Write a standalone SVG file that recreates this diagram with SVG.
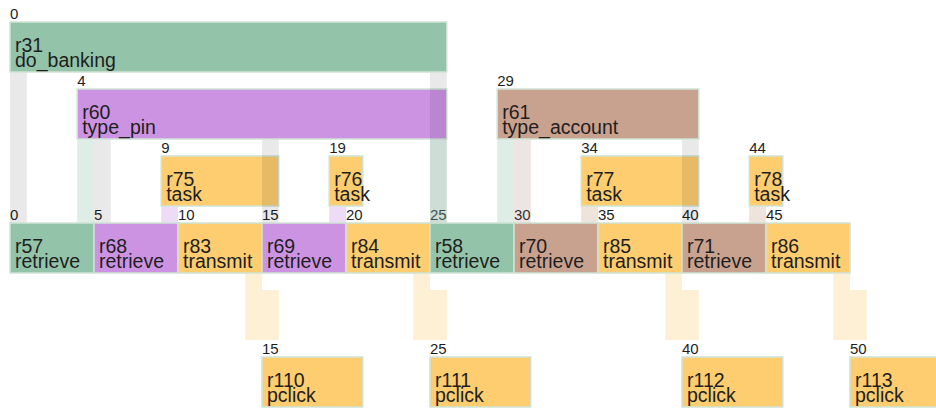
<svg xmlns="http://www.w3.org/2000/svg" width="936" height="411" viewBox="0 0 936 411">
<style>
.box{stroke:#cfe3d5;stroke-width:1.5}
.g{fill:#93c4aa}.p{fill:#cc93e3}.b{fill:#c9a18f}.o{fill:#fdcd70}
.t{font-family:"Liberation Sans",Arial,sans-serif;font-size:19.5px;fill:#1e1e1e}
.n{font-family:"Liberation Sans",Arial,sans-serif;font-size:15px;fill:#1e1e1e}
.cg{fill:rgba(0,0,0,0.085)}
.cgr{fill:rgba(147,196,170,0.3)}
.cp{fill:rgba(204,147,227,0.33)}
.cb{fill:rgba(201,161,143,0.3)}
.cbg{fill:rgba(150,110,100,0.18)}
.co{fill:rgba(253,205,112,0.3)}
</style>
<rect width="936" height="411" fill="#ffffff"/>

<g id="r31"><rect class="box g" x="10" y="22" width="436.8" height="50"/><text class="n" x="10" y="18.5">0</text><text class="t" x="15" y="52">r31</text><text class="t" x="15" y="67">do_banking</text></g>
<g id="r60"><rect class="box p" x="77.2" y="89" width="369.6" height="50"/><text class="n" x="77.2" y="85.5">4</text><text class="t" x="82.2" y="119">r60</text><text class="t" x="82.2" y="134">type_pin</text></g>
<g id="r61"><rect class="box b" x="497.2" y="89" width="201.6" height="50"/><text class="n" x="497.2" y="85.5">29</text><text class="t" x="502.2" y="119">r61</text><text class="t" x="502.2" y="134">type_account</text></g>
<g id="r75"><rect class="box o" x="161.2" y="156" width="117.6" height="50"/><text class="n" x="161.2" y="152.5">9</text><text class="t" x="166.2" y="186">r75</text><text class="t" x="166.2" y="201">task</text></g>
<g id="r76"><rect class="box o" x="329.2" y="156" width="33.6" height="50"/><text class="n" x="329.2" y="152.5">19</text><text class="t" x="334.2" y="186">r76</text><text class="t" x="334.2" y="201">task</text></g>
<g id="r77"><rect class="box o" x="581.2" y="156" width="117.6" height="50"/><text class="n" x="581.2" y="152.5">34</text><text class="t" x="586.2" y="186">r77</text><text class="t" x="586.2" y="201">task</text></g>
<g id="r78"><rect class="box o" x="749.2" y="156" width="33.6" height="50"/><text class="n" x="749.2" y="152.5">44</text><text class="t" x="754.2" y="186">r78</text><text class="t" x="754.2" y="201">task</text></g>

<g id="r57"><rect class="box g" x="10" y="223" width="84" height="50"/><text class="n" x="10" y="219.5">0</text><text class="t" x="15" y="253">r57</text><text class="t" x="15" y="268">retrieve</text></g>
<g id="r68"><rect class="box p" x="94" y="223" width="84" height="50"/><text class="n" x="94" y="219.5">5</text><text class="t" x="99" y="253">r68</text><text class="t" x="99" y="268">retrieve</text></g>
<g id="r83"><rect class="box o" x="178" y="223" width="84" height="50"/><text class="n" x="178" y="219.5">10</text><text class="t" x="183" y="253">r83</text><text class="t" x="183" y="268">transmit</text></g>
<g id="r69"><rect class="box p" x="262" y="223" width="84" height="50"/><text class="n" x="262" y="219.5">15</text><text class="t" x="267" y="253">r69</text><text class="t" x="267" y="268">retrieve</text></g>
<g id="r84"><rect class="box o" x="346" y="223" width="84" height="50"/><text class="n" x="346" y="219.5">20</text><text class="t" x="351" y="253">r84</text><text class="t" x="351" y="268">transmit</text></g>
<g id="r58"><rect class="box g" x="430" y="223" width="84" height="50"/><text class="n" x="430" y="219.5">25</text><text class="t" x="435" y="253">r58</text><text class="t" x="435" y="268">retrieve</text></g>
<g id="r70"><rect class="box b" x="514" y="223" width="84" height="50"/><text class="n" x="514" y="219.5">30</text><text class="t" x="519" y="253">r70</text><text class="t" x="519" y="268">retrieve</text></g>
<g id="r85"><rect class="box o" x="598" y="223" width="84" height="50"/><text class="n" x="598" y="219.5">35</text><text class="t" x="603" y="253">r85</text><text class="t" x="603" y="268">transmit</text></g>
<g id="r71"><rect class="box b" x="682" y="223" width="84" height="50"/><text class="n" x="682" y="219.5">40</text><text class="t" x="687" y="253">r71</text><text class="t" x="687" y="268">retrieve</text></g>
<g id="r86"><rect class="box o" x="766" y="223" width="84" height="50"/><text class="n" x="766" y="219.5">45</text><text class="t" x="771" y="253">r86</text><text class="t" x="771" y="268">transmit</text></g>

<g id="r110"><rect class="box o" x="262" y="357" width="100.8" height="50"/><text class="n" x="262" y="353.5">15</text><text class="t" x="267" y="387">r110</text><text class="t" x="267" y="402">pclick</text></g>
<g id="r111"><rect class="box o" x="430" y="357" width="100.8" height="50"/><text class="n" x="430" y="353.5">25</text><text class="t" x="435" y="387">r111</text><text class="t" x="435" y="402">pclick</text></g>
<g id="r112"><rect class="box o" x="682" y="357" width="100.8" height="50"/><text class="n" x="682" y="353.5">40</text><text class="t" x="687" y="387">r112</text><text class="t" x="687" y="402">pclick</text></g>
<g id="r113"><rect class="box o" x="850" y="357" width="100.8" height="50"/><text class="n" x="850" y="353.5">50</text><text class="t" x="855" y="387">r113</text><text class="t" x="855" y="402">pclick</text></g>

<g id="connectors">
<rect class="cg" x="10" y="72.8" width="16.8" height="149.5"/>
<rect class="cg" x="430" y="72.8" width="16.8" height="149.5"/>
<rect class="cgr" x="77.2" y="139.8" width="16.8" height="82.5"/>
<rect class="cg" x="94" y="139.8" width="16.8" height="82.5"/>
<rect class="cg" x="262" y="139.8" width="16.8" height="82.5"/>
<rect class="cgr" x="430" y="139.8" width="16.8" height="82.5"/>
<rect class="cp" x="161.2" y="206.8" width="16.8" height="15.5"/>
<rect class="cp" x="329.2" y="206.8" width="16.8" height="15.5"/>
<rect class="cgr" x="497.2" y="139.8" width="16.8" height="82.5"/>
<rect class="cbg" x="514" y="139.8" width="16.8" height="82.5"/>
<rect class="cg" x="682" y="139.8" width="16.8" height="82.5"/>
<rect class="cb" x="581.2" y="206.8" width="16.8" height="15.5"/>
<rect class="cb" x="749.2" y="206.8" width="16.8" height="15.5"/>
<path class="co" d="M245.2,273.8H262V290H278.8V340H245.2Z"/>
<path class="co" d="M413.2,273.8H430V290H446.8V340H413.2Z"/>
<path class="co" d="M665.2,273.8H682V290H698.8V340H665.2Z"/>
<path class="co" d="M833.2,273.8H850V290H866.8V340H833.2Z"/>
</g>
</svg>
